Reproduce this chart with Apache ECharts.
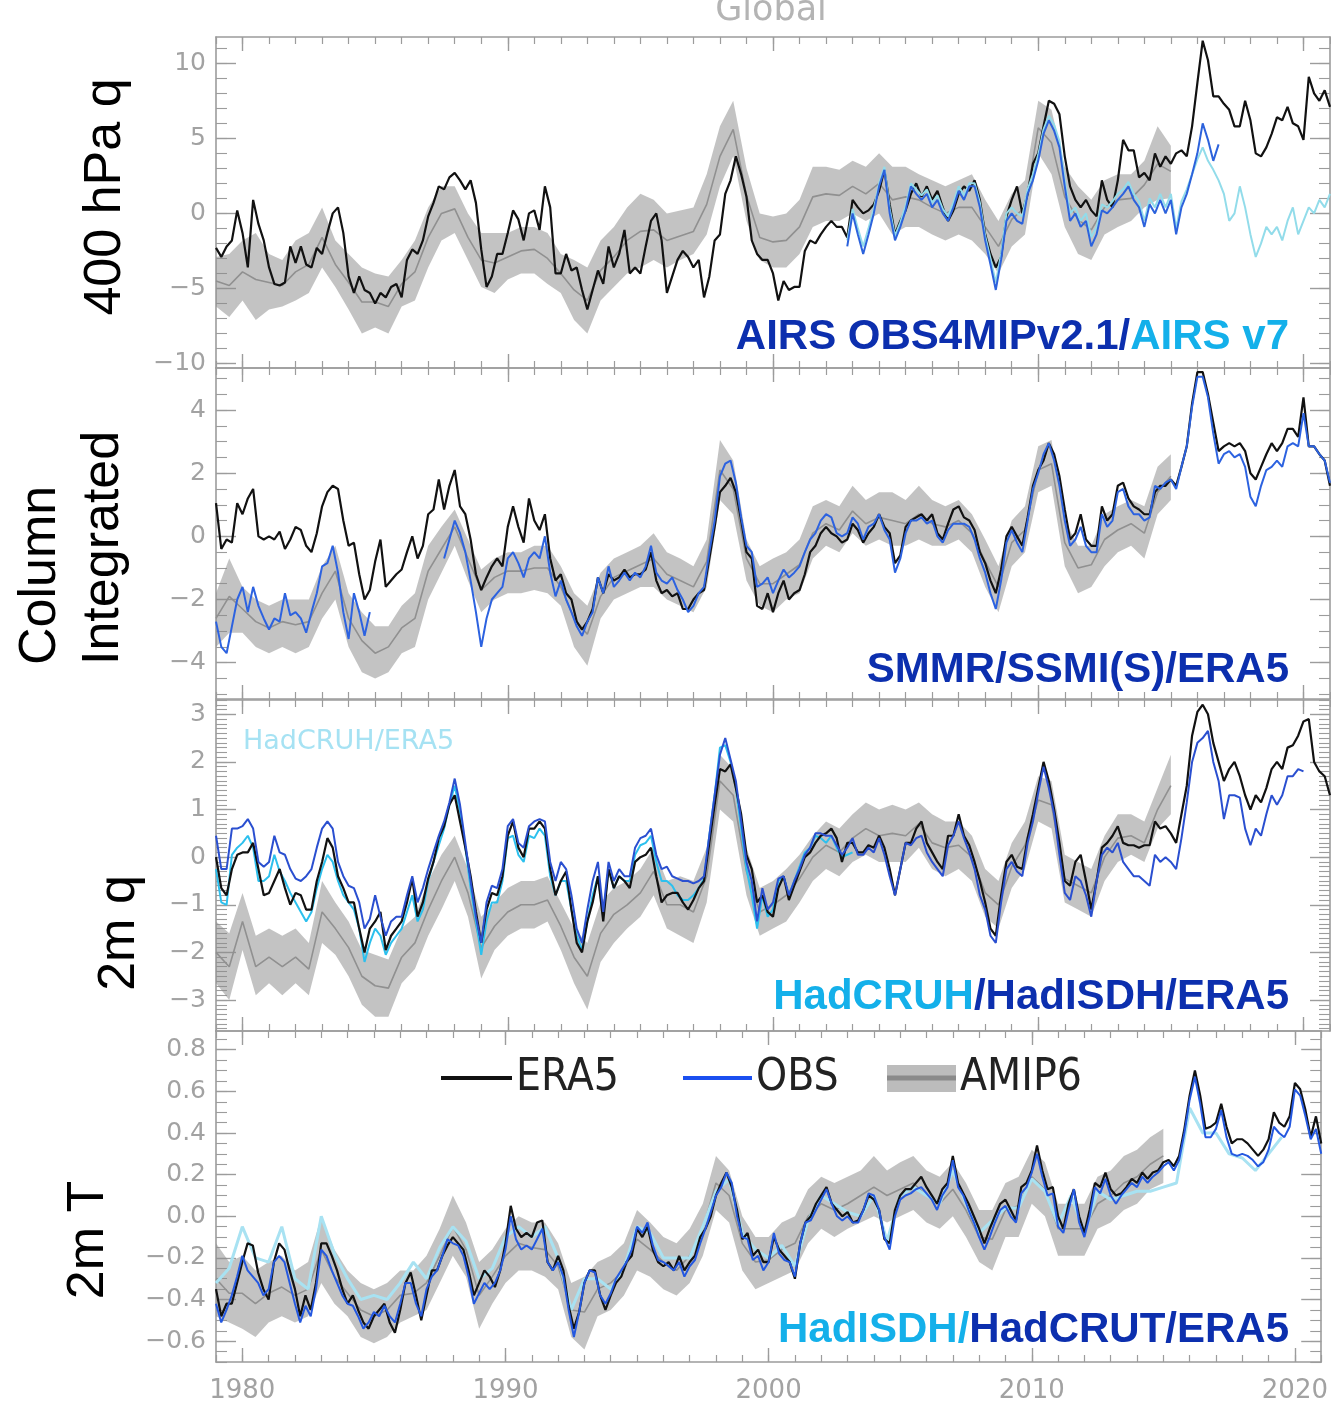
<!DOCTYPE html>
<html>
<head>
<meta charset="utf-8">
<script src="https://cdn.jsdelivr.net/npm/echarts@6/dist/echarts.min.js"></script>
<style>
  html, body { margin: 0; padding: 0; background: #fff; overflow: hidden; }
  #main { width: 1331px; height: 1408px; }
</style>
</head>
<body>
<div id="main"></div>
<script>
// ---- axis tick labels ----
const decadeTicks = [1980, 1990, 2000, 2010, 2020]
const q400Ticks = [-10, -5, 0, 5, 10]
const tcwvTicks = [-4, -2, 0, 2, 4]
const q2mTicks = [-3, -2, -1, 0, 1, 2, 3]
const t2mTicks = [-0.6, -0.4, -0.2, 0.0, 0.2, 0.4, 0.6, 0.8]

// ---- 400 hPa q (lines every 0.2 yr, AMIP every 0.5 yr from 1979.0) ----
const q400Era5 = [
  -2.3, -2.9, -2.2, -1.8, 0.2,  -1.3, -3.6, 0.9, -0.7, -1.8,  -3.6, -4.7, -4.8, -4.6, -2.2,
  -3.3, -2.2, -3.4, -3.6, -2.3,  -2.7, -1.3, 0, 0.4, -1.3,  -4.2, -5.3, -4.2, -5.1, -5.3,
  -6.0, -5.3, -5.6, -4.9, -4.7,  -5.6, -3.1, -2.4, -2.7, -1.8,  -0.2, 0.7, 1.8, 1.6, 2.4,
  2.7, 2.2, 1.6, 2.2, 0.7,  -2.4, -4.9, -4.2, -2.7, -2.7,  -1.3, 0.2, -0.4, -1.8, 0,
  0.2, -1.1, 1.8, 0.4, -4.0,  -4.0, -2.7, -3.8, -3.6, -5.1,  -6.4, -5.1, -3.8, -4.7, -2.2,
  -3.6, -2.7, -1.1, -4.0, -3.6,  -4.0, -2.2, -0.5, 0, -1.8,  -5.3, -4.2, -3.1, -2.5, -2.9,
  -3.6, -3.1, -5.6, -4.2, -1.8,  -1.4, 1.3, 2.2, 3.8, 2.6,  1.1, -1.8, -2.7, -3.1, -3.1,
  -4.0, -5.8, -4.5, -5.1, -4.9,  -4.9, -2.5, -1.8, -2.0, -1.4,  -0.9, -0.5, -0.9, -0.9, -1.6,
  0.9, 0.4, 0, 0.2, 0.6,  1.5, 2.9, 0.6, -1.4, -0.5,  0.2, 1.3, 2.0, 1.1, 1.8,
  0.9, 1.5, 0.4, -0.5, 0.2,  1.3, 1.8, 1.5, 2.2, 0.9,  -1.4, -2.7, -3.6, -2.9, -0.2,
  0.9, 1.8, 0, 1.3, 3.3,  4.0, 5.8, 7.5, 7.3, 6.6,  3.8, 1.8, 0.9, 0.4, 0.9,
  0.2, -0.2, 2.2, 0.9, 0.4,  2.2, 4.9, 4.2, 4.2, 2.4,  2.7, 2.2, 4.0, 3.1, 3.8,
  3.3, 4.0, 4.2, 3.8, 5.8,  8.7, 11.5, 10.2, 7.8, 7.8,  7.3, 6.9, 5.8, 5.8, 7.5,
  6.2, 4.0, 3.8, 4.4, 5.3,  6.4, 6.2, 7.1, 6.0, 5.8,  4.9, 9.1, 8.0, 7.5, 8.2,
  7.1
]
const q400Obs4mip = [ // from 2002.8
  -2.2,
  0, -1.4, -2.7, -1.4, 0,  1.8, 2.9, 0, -1.8, -0.9,  0.2, 1.8, 1.3, 0.9, 1.3,
  0.4, 0.9, 0, -0.5, 0.4,  1.5, 0.9, 1.8, 1.8, 0.4,  -1.8, -3.4, -5.1, -3.1, -0.5,
  0, -0.5, -0.7, 1.3, 2.2,  3.5, 5.3, 6.2, 5.5, 4.4,  1.8, -0.5, 0, -0.9, -0.5,
  -2.2, -1.4, 0.2, 0, 0.4,  0.9, 1.3, 1.8, 0.9, 0.4,  -0.9, 0.6, 0, 0.9, 0,
  0.9, -1.4, 0.4, 1.3, 2.6,  4.0, 6.0, 4.9, 3.5, 4.6
]
const q400AirsV7 = [ // from 2002.8
  -1.8,
  0.3, -1.0, -2.2, -1.0, 0.3,  2.0, 3.1, 0.3, -1.5, -0.6,  0.5, 2.0, 1.6, 1.2, 1.6,
  0.7, 1.2, 0.3, -0.2, 0.7,  1.8, 1.2, 2.0, 2.0, 0.7,  -1.5, -3.0, -4.6, -2.7, 0,
  0.4, 0, -0.2, 1.6, 2.6,  3.9, 5.6, 6.5, 5.9, 4.8,  2.2, 0, 0.4, -0.5, 0,
  -1.6, -0.9, 0.6, 0.4, 0.8,  1.3, 1.6, 2.1, 1.3, 0.8,  -0.5, 1.0, 0.4, 1.3, 0.4,
  1.3, -1.0, 0.8, 1.6, 2.6,  3.6, 4.4, 3.5, 2.9, 2.2,  1.3, -0.5, 0, 1.8, 0.4,
  -1.4, -2.9, -2.0, -0.9, -1.4,  -0.9, -1.8, -0.5, 0.4, -1.4,  -0.5, 0.4, 0, 0.9, 0.4,
  1.3
]
const q400AmipHi = [
  -2.9, -2.7, -1.8, -1.3, -2.7, -3.1, -1.8, -1.3, 0.4, -1.8,
  -2.7, -3.6, -4.0, -4.2, -3.1, -1.8, 0.4, 1.8, 1.8, 0,
  -1.3, -1.3, -1.3, -0.9, -0.9, -1.3, -2.7, -3.1, -3.6, -1.8,
  -0.9, 0.4, 1.3, 0.9, 0, 0.2, 0.4, 2.6, 5.8, 7.5,
  3.0, 0, -0.2, 0, 0.9, 3.1, 3.1, 2.9, 3.5, 3.1,
  4.0, 3.1, 3.1, 2.6, 2.2, 1.8, 2.2, 2.6, 0.9, -0.5,
  1.3, 2.2, 7.5, 6.9, 3.1, 1.8, 0.9, 2.2, 2.6, 2.6,
  3.5, 5.8, 4.5
]
const q400AmipLo = [
  -6.2, -6.9, -5.8, -7.1, -6.4, -6.2, -5.8, -5.3, -3.6, -4.9,
  -6.4, -8.0, -7.6, -8.0, -6.2, -5.8, -3.6, -1.8, -1.3, -3.1,
  -4.9, -5.3, -4.4, -4.0, -4.0, -4.7, -5.3, -7.1, -8.0, -5.8,
  -4.9, -4.0, -3.6, -3.1, -3.6, -3.1, -2.7, -1.4, 1.8, 3.8,
  -0.5, -3.1, -3.6, -3.6, -2.7, -0.9, -0.5, -0.5, 0, -0.5,
  0, -1.4, -0.9, -0.9, -1.4, -1.8, -1.4, -1.8, -2.7, -4.0,
  -2.2, -1.4, 4.0, 2.6, -0.9, -2.7, -3.1, -1.4, -0.9, -0.5,
  0.4, 0.9, 1.0
]
const q400AmipMean = [
  -4.5, -4.8, -3.9, -4.4, -4.6, -4.8, -3.9, -3.4, -1.6, -3.4,
  -4.6, -5.9, -5.9, -6.2, -4.7, -3.9, -1.6, 0, 0.3, -1.6,
  -3.1, -3.3, -2.9, -2.5, -2.4, -3.0, -4.0, -5.1, -5.8, -3.8,
  -2.9, -1.8, -1.2, -1.1, -1.8, -1.5, -1.2, 0.6, 3.8, 5.6,
  1.2, -1.6, -1.9, -1.8, -0.9, 1.1, 1.3, 1.2, 1.8, 1.3,
  2.0, 0.9, 1.1, 0.9, 0.4, 0, 0.4, 0.4, -0.9, -2.2,
  -0.4, 0.4, 5.7, 4.7, 1.1, -0.4, -1.1, 0.4, 0.9, 1.0,
  1.9, 3.3, 2.8
]

// ---- column integrated water vapour ----
const tcwvEra5 = [
  1.05, -0.4, -0.1, -0.2, 1.05,  0.7, 1.2, 1.5, 0, -0.1,  0, -0.1, 0.15, -0.4, -0.1,
  0.3, 0.2, -0.3, -0.5, 0.1,  0.95, 1.4, 1.6, 1.5, 0.5,  -0.3, -0.2, -1.2, -2.0, -1.7,
  -0.8, -0.1, -1.6, -1.4, -1.2,  -1.05, -0.5, 0, -0.7, -0.3,  0.7, 0.85, 1.8, 0.85, 1.6,
  2.1, 0.95, 0.7, -0.1, -1.2,  -1.7, -1.3, -0.95, -0.7, -0.95,  0.3, 0.95, 0.3, -0.2, 1.2,
  0.5, 0.2, 0.7, -0.7, -1.4,  -1.2, -1.8, -2.0, -2.7, -2.95,  -2.7, -2.3, -1.3, -1.8, -1.2,
  -1.4, -1.3, -1.05, -1.3, -1.2,  -1.2, -1.05, -0.5, -1.4, -1.8,  -1.7, -1.9, -1.8, -2.3, -2.3,
  -2.0, -1.8, -1.7, -0.7, 0.3,  1.4, 1.6, 1.85, 1.4, 0.5,  -0.5, -0.7, -2.2, -2.3, -1.8,
  -2.4, -1.8, -1.4, -2.0, -1.8,  -1.7, -1.2, -0.5, -0.3, 0.1,  0.3, 0.1, 0, -0.2, -0.1,
  0.4, 0.2, -0.2, 0.1, 0.3,  0.7, 0.3, 0.1, -0.85, -0.6,  0.3, 0.5, 0.6, 0.7, 0.5,
  0.7, 0.1, -0.1, 0.4, 0.85,  0.95, 0.6, 0.5, 0.2, -0.5,  -0.85, -1.4, -1.8, -1.05, 0,
  0.3, 0, -0.3, 0.6, 1.6,  2.1, 2.4, 2.95, 2.6, 1.9,  0.85, -0.1, 0.1, 0.7, -0.1,
  -0.3, -0.3, 0.95, 0.5, 0.7,  1.6, 1.7, 1.2, 0.95, 0.85,  0.7, 0.7, 1.4, 1.6, 1.6,
  1.8, 1.6, 2.2, 2.85, 4.2,  5.2, 5.2, 4.5, 3.6, 2.7,  2.85, 2.95, 2.85, 2.95, 2.7,
  2.0, 1.8, 2.2, 2.6, 2.95,  2.7, 2.95, 3.4, 3.4, 3.15,  4.4, 2.85, 2.85, 2.6, 2.4,
  1.6
]
const tcwvSmmr = [ // 1979.0 - 1984.8
  -2.7, -3.5, -3.7, -2.85, -2.0,  -1.6, -2.4, -1.6, -2.2, -2.6,  -2.95, -2.6, -2.7, -1.8, -2.5,
  -2.4, -2.6, -3.05, -2.4, -1.8,  -0.95, -0.85, -0.3, -1.15, -2.4,  -3.25, -1.8, -2.4, -3.15, -2.4
]
const tcwvSsmi = [ // from 1987.6
  -0.7, -0.1,
  0.5, 0.1, -0.5, -1.4, -2.4,  -3.5, -2.6, -2.0, -1.8, -1.6,  -0.7, -0.5, -0.85, -1.3, -0.7,
  -0.5, -0.7, 0, -1.15, -1.9,  -1.4, -2.0, -2.4, -2.85, -3.15,  -2.7, -2.4, -1.3, -1.8, -0.95,
  -1.6, -1.4, -1.15, -1.4, -1.15,  -1.3, -0.95, -0.3, -1.15, -1.4,  -1.5, -1.3, -1.7, -2.0, -2.4,
  -2.2, -1.8, -1.6, -0.5, 0.5,  1.9, 2.3, 2.4, 1.7, 0.6,  -0.3, -0.5, -1.6, -1.5, -1.3,
  -1.8, -1.4, -1.05, -1.3, -1.15,  -0.95, -0.5, -0.1, 0.1, 0.5,  0.7, 0.6, 0.1, 0, 0.1,
  0.6, 0.4, -0.1, 0.3, 0.4,  0.7, 0.2, -0.1, -1.15, -0.7,  0.1, 0.5, 0.5, 0.6, 0.4,
  0.5, 0, -0.2, 0.2, 0.4,  0.4, 0.4, 0.3, -0.1, -0.7,  -1.15, -1.8, -2.3, -1.4, -0.2,
  0.2, -0.2, -0.5, 0.5, 1.5,  2.0, 2.6, 2.95, 2.4, 1.6,  0.5, -0.3, -0.1, 0.3, -0.3,
  -0.5, -0.5, 0.7, 0.3, 0.5,  1.4, 1.5, 0.95, 0.7, 0.7,  0.5, 0.6, 1.6, 1.5, 1.7,
  1.8, 1.5, 2.2, 2.85, 4.1,  5.05, 5.05, 4.4, 3.25, 2.3,  2.6, 2.7, 2.5, 2.6, 2.2,
  1.25, 0.95, 1.6, 2.1, 2.2,  2.4, 2.2, 2.85, 2.95, 2.85,  3.9, 2.85, 2.85, 2.6, 2.4,
  1.7
]
const tcwvAmipHi = [
  -1.8, -0.7, -1.6, -2.0, -2.2, -2.0, -2.0, -2.0, -0.95, -0.3,
  -1.8, -2.4, -2.85, -2.85, -2.2, -1.8, -0.3, 0.3, 0.85, -0.1,
  -1.05, -0.7, -0.5, -0.5, -0.3, -0.3, -0.95, -1.8, -2.2, -1.15,
  -0.7, -0.5, -0.3, 0.1, -0.5, -0.7, -0.95, -0.1, 3.05, 2.4,
  -0.1, -0.95, -0.7, -0.5, -0.1, 0.95, 1.15, 0.95, 1.6, 1.15,
  1.4, 1.4, 1.15, 1.6, 1.15, 0.95, 1.15, 0.7, -0.1, -0.95,
  0.5, 0.95, 2.85, 3.05, 0.5, -0.3, -0.3, 0.7, 0.95, 1.15,
  0.95, 2.2, 2.6
]
const tcwvAmipLo = [
  -3.5, -3.05, -3.05, -3.5, -3.7, -3.5, -3.7, -3.5, -2.6, -2.0,
  -3.5, -4.3, -4.5, -4.3, -3.7, -3.5, -2.0, -1.15, -0.3, -1.4,
  -2.4, -2.0, -1.8, -1.8, -1.7, -1.8, -2.2, -3.5, -4.1, -2.6,
  -2.0, -1.8, -1.6, -1.6, -2.0, -2.2, -2.4, -1.6, 1.15, 0.7,
  -1.4, -2.2, -2.4, -2.0, -1.8, -0.7, -0.3, -0.5, 0.1, -0.3,
  -0.1, -0.3, -0.3, -0.1, -0.3, -0.3, -0.1, -0.5, -1.6, -2.4,
  -0.95, -0.5, 1.4, 1.6, -0.95, -1.8, -1.6, -0.95, -0.5, -0.3,
  -0.7, 0.7, 1.15
]
const tcwvAmipMean = [
  -2.6, -1.9, -2.3, -2.7, -2.9, -2.7, -2.8, -2.7, -1.8, -1.1,
  -2.6, -3.3, -3.7, -3.5, -2.9, -2.6, -1.1, -0.4, 0.3, -0.7,
  -1.7, -1.3, -1.1, -1.1, -1.0, -1.0, -1.6, -2.6, -3.1, -1.9,
  -1.3, -1.1, -0.9, -0.7, -1.2, -1.4, -1.6, -0.8, 2.1, 1.5,
  -0.7, -1.5, -1.5, -1.2, -0.9, 0.1, 0.4, 0.2, 0.8, 0.4,
  0.6, 0.5, 0.4, 0.7, 0.4, 0.3, 0.5, 0.1, -0.8, -1.6,
  -0.2, 0.2, 2.1, 2.3, -0.2, -1.0, -0.9, -0.1, 0.2, 0.4,
  0.1, 1.4, 1.9
]

// ---- 2m specific humidity ----
const q2mEra5 = [
  0, -0.65, -0.8, -0.25, 0.05,  0.1, 0.1, 0.3, -0.25, -0.8,  -0.75, -0.5, -0.25, -0.65, -1.0,
  -0.75, -0.8, -1.1, -1.1, -0.5,  -0.1, 0.4, 0.2, -0.4, -0.65,  -0.95, -0.95, -1.5, -2.0, -1.5,
  -1.35, -1.15, -1.95, -1.65, -1.5,  -1.35, -0.95, -0.45, -1.25, -0.95,  -0.45, -0.1, 0.4, 0.65, 1.1,
  1.3, 0.75, 0.2, -0.4, -1.15,  -1.8, -1.1, -0.75, -0.8, -0.4,  0.45, 0.75, 0.2, 0, 0.6,
  0.6, 0.75, 0.6, -0.25, -0.8,  -0.5, -0.3, -1.1, -1.8, -2.0,  -1.35, -0.95, -0.4, -1.35, -0.25,
  -0.65, -0.4, -0.5, -0.65, -0.1,  0, 0.05, 0.2, -0.4, -0.95,  -0.8, -0.75, -0.75, -0.95, -1.1,
  -0.9, -0.65, -0.5, 0.3, 1.1,  1.85, 1.8, 1.95, 1.45, 0.9,  0.05, -0.25, -0.95, -0.8, -1.15,
  -1.25, -0.65, -0.4, -0.9, -0.6,  -0.3, 0, 0.1, 0.3, 0.45,  0.5, 0.6, 0.4, -0.1, 0.3,
  0.3, 0.1, 0.1, 0.25, 0.2,  0.45, 0.2, -0.25, -0.8, -0.25,  0.3, 0.3, 0.6, 0.75, 0.3,
  0.1, -0.1, -0.25, 0.45, 0.45,  0.9, 0.45, 0.25, -0.1, -0.5,  -0.95, -1.5, -1.65, -0.8, -0.1,
  0.05, -0.2, -0.25, 0.4, 0.9,  1.45, 2.0, 1.6, 1.0, 0.3,  -0.5, -0.6, -0.1, 0.05, -0.5,
  -1.1, -0.5, 0.2, 0.3, 0.45,  0.65, 0.3, 0.25, 0.25, 0.2,  0.25, 0.25, 0.75, 0.6, 0.65,
  0.5, 0.3, 0.9, 1.5, 2.55,  3.05, 3.2, 3.0, 2.4, 2.0,  1.6, 1.85, 2.0, 1.7, 1.3,
  1.0, 1.3, 1.15, 1.45, 1.85,  2.0, 1.85, 2.3, 2.35, 2.55,  2.85, 2.9, 2.0, 1.8, 1.7,
  1.3
]
const q2mHadisdh = [ // 1979.0 - 2020.0
  0.45, -0.25, -0.25, 0.6, 0.6,  0.65, 0.8, 0.6, -0.1, -0.2,  -0.1, 0.45, 0.1, 0.05, -0.25,
  -0.45, -0.5, -0.4, -0.25, 0.2,  0.6, 0.75, 0.6, -0.1, -0.4,  -0.6, -0.65, -0.95, -1.5, -1.3,
  -0.8, -1.25, -1.65, -1.35, -1.25,  -1.25, -0.8, -0.4, -0.95, -0.65,  -0.25, 0.1, 0.45, 0.75, 1.15,
  1.65, 1.1, 0.3, -0.5, -1.25,  -1.8, -0.95, -0.6, -0.65, -0.25,  0.65, 0.8, 0.3, 0.2, 0.65,
  0.75, 0.8, 0.75, -0.1, -0.5,  -0.1, -0.25, -0.8, -1.5, -1.8,  -1.1, -0.5, -0.1, -1.15, -0.1,
  -0.5, -0.25, -0.4, -0.4, 0.2,  0.4, 0.45, 0.6, 0.05, -0.25,  -0.2, -0.4, -0.45, -0.5, -0.5,
  -0.55, -0.5, -0.4, 0.45, 1.3,  2.15, 2.5, 2.05, 1.6, 0.75,  -0.1, -0.5, -1.35, -0.65, -1.1,
  -0.95, -0.45, -0.4, -0.8, -0.5,  -0.25, 0.05, 0.2, 0.5, 0.5,  0.45, 0.45, 0.25, 0.05, 0.2,
  0.4, 0.05, 0.05, 0.2, 0.1,  0.4, 0.05, -0.4, -0.8, -0.25,  0.3, 0.25, 0.4, 0.45, 0.1,
  -0.1, -0.25, -0.4, 0.25, 0.45,  0.75, 0.4, 0.1, -0.25, -0.8,  -1.1, -1.65, -1.8, -0.95, -0.25,
  -0.1, -0.3, -0.4, 0.3, 0.75,  1.35, 1.9, 1.45, 0.9, 0.05,  -0.75, -0.9, -0.4, -0.5, -0.8,
  -1.25, -0.5, 0.05, 0.2, 0.1,  0.3, -0.1, -0.25, -0.4, -0.4,  -0.5, -0.6, 0.05, -0.1, 0,
  -0.1, -0.25, 0.4, 1.15, 2.0,  2.4, 2.5, 2.65, 2.0, 1.6,  0.8, 1.3, 1.3, 1.25, 0.6,
  0.25, 0.6, 0.45, 0.9, 1.3,  1.1, 1.3, 1.7, 1.7, 1.85,
  1.8
]
const q2mHadcruh = [ // 1979.0 - 2003.0
  -0.25, -0.95, -1.0, 0.05, 0.2,  0.3, 0.45, 0.2, -0.5, -0.5,  -0.4, 0.05, -0.3, -0.5, -0.75,
  -0.95, -1.15, -1.35, -1.15, -0.65,  -0.25, 0.05, -0.1, -0.5, -0.8,  -0.95, -1.1, -1.5, -2.2, -1.8,
  -1.5, -1.65, -2.05, -1.8, -1.65,  -1.5, -1.15, -0.8, -1.35, -1.1,  -0.5, -0.1, 0.25, 0.6, 1.1,
  1.5, 0.95, 0.2, -0.65, -1.35,  -2.05, -1.35, -0.95, -0.95, -0.5,  0.4, 0.45, 0.05, -0.1, 0.45,
  0.4, 0.6, 0.45, -0.4, -0.8,  -0.5, -0.5, -1.1, -1.65, -1.95,  -1.35, -0.8, -0.4, -1.25, -0.25,
  -0.65, -0.4, -0.5, -0.5, 0.05,  0.25, 0.3, 0.45, -0.1, -0.5,  -0.5, -0.6, -0.8, -0.9, -0.9,
  -0.8, -0.65, -0.45, 0.45, 1.3,  2.3, 2.35, 2.0, 1.45, 0.6,  -0.25, -0.8, -1.5, -0.8, -1.25,
  -1.1, -0.5, -0.4, -0.8, -0.5,  -0.2, 0.1, 0.2, 0.45, 0.4,  0.3, 0.45, 0.2, 0, 0.05,
  0.1
]
const q2mAmipHi = [
  -1.35, -1.6, -0.75, -1.65, -1.5, -1.65, -1.5, -1.8, -0.5, -0.95,
  -1.35, -1.95, -2.05, -2.15, -1.5, -1.25, -0.5, 0.05, 0.45, -0.25,
  -1.25, -0.95, -0.65, -0.5, -0.5, -0.4, -0.95, -1.5, -1.8, -0.95,
  -0.65, -0.5, -0.25, 0.2, -0.5, -0.4, -0.5, 0.2, 2.15, 1.85,
  0.2, -0.65, -0.5, -0.25, 0.05, 0.45, 0.75, 0.6, 0.9, 1.15,
  1.0, 1.1, 1.0, 1.15, 0.9, 0.75, 0.75, 0.45, -0.25, -0.5,
  0.3, 0.75, 1.7, 1.6, 0.05, -0.1, -0.25, 0.45, 0.9, 0.9,
  0.75, 1.45, 2.15
]
const q2mAmipLo = [
  -2.65, -3.0, -1.95, -2.9, -2.65, -2.9, -2.65, -2.9, -1.8, -2.05,
  -2.5, -3.1, -3.35, -3.35, -2.65, -2.35, -1.65, -1.1, -0.5, -1.25,
  -2.55, -1.95, -1.65, -1.5, -1.5, -1.35, -1.95, -2.65, -3.2, -2.2,
  -1.8, -1.5, -1.25, -0.8, -1.5, -1.65, -1.8, -0.95, 1.0, 0.75,
  -0.8, -1.65, -1.5, -1.35, -0.95, -0.5, -0.25, -0.4, -0.1, 0.05,
  -0.1, -0.1, -0.1, 0.2, -0.25, -0.4, -0.25, -0.5, -1.25, -1.5,
  -0.65, -0.25, 0.75, 0.6, -0.95, -1.1, -1.25, -0.5, -0.1, 0.05,
  -0.1, 0.6, 0.9
]
const q2mAmipMean = [
  -2.0, -2.3, -1.35, -2.3, -2.1, -2.3, -2.1, -2.35, -1.15, -1.5,
  -1.9, -2.5, -2.7, -2.75, -2.1, -1.8, -1.1, -0.5, 0, -0.75,
  -1.9, -1.45, -1.15, -1.0, -1.0, -0.9, -1.45, -2.1, -2.5, -1.6,
  -1.2, -1.0, -0.75, -0.3, -1.0, -1.0, -1.15, -0.4, 1.6, 1.3,
  -0.3, -1.15, -1.0, -0.8, -0.45, 0, 0.25, 0.1, 0.4, 0.6,
  0.45, 0.5, 0.45, 0.7, 0.3, 0.2, 0.25, 0, -0.75, -1.0,
  -0.2, 0.25, 1.2, 1.1, -0.45, -0.6, -0.75, 0, 0.4, 0.45,
  0.3, 1.0, 1.5
]

// ---- 2m temperature ----
const t2mEra5 = [
  -0.35, -0.48, -0.42, -0.42, -0.32,  -0.22, -0.13, -0.14, -0.27, -0.35,  -0.40, -0.22, -0.13, -0.16, -0.26,
  -0.35, -0.48, -0.38, -0.45, -0.32,  -0.13, -0.13, -0.19, -0.26, -0.35,  -0.42, -0.38, -0.45, -0.51, -0.54,
  -0.48, -0.45, -0.42, -0.51, -0.56,  -0.45, -0.32, -0.27, -0.38, -0.50,  -0.38, -0.26, -0.26, -0.19, -0.14,
  -0.10, -0.13, -0.16, -0.26, -0.38,  -0.32, -0.26, -0.29, -0.34, -0.26,  -0.13, 0.05, -0.06, -0.10, -0.08,
  -0.10, -0.03, -0.02, -0.22, -0.26,  -0.19, -0.26, -0.43, -0.54, -0.46,  -0.32, -0.26, -0.26, -0.38, -0.45,
  -0.38, -0.32, -0.29, -0.22, -0.19,  -0.06, -0.10, -0.05, -0.16, -0.22,  -0.24, -0.22, -0.26, -0.19, -0.26,
  -0.22, -0.19, -0.10, -0.06, 0,  0.10, 0.16, 0.21, 0.14, 0.03,  -0.11, -0.08, -0.19, -0.16, -0.22,
  -0.22, -0.10, -0.16, -0.19, -0.22,  -0.30, -0.13, -0.03, 0, 0.06,  0.10, 0.14, 0.06, 0.03, 0,
  0.02, -0.03, -0.02, 0.03, 0.10,  0.08, 0.03, -0.11, -0.13, 0.03,  0.10, 0.13, 0.13, 0.16, 0.19,
  0.14, 0.10, 0.06, 0.13, 0.16,  0.29, 0.16, 0.11, 0.06, 0,  -0.06, -0.13, -0.06, 0, 0.06,
  0.08, 0.03, -0.02, 0.14, 0.16,  0.22, 0.34, 0.22, 0.13, 0.14,  0, -0.06, 0.06, 0.13, 0,
  -0.08, 0.03, 0.16, 0.14, 0.21,  0.13, 0.10, 0.11, 0.14, 0.18,  0.16, 0.21, 0.18, 0.21, 0.22,
  0.26, 0.27, 0.24, 0.29, 0.42,  0.58, 0.70, 0.58, 0.42, 0.43,  0.45, 0.54, 0.43, 0.35, 0.37,
  0.37, 0.35, 0.32, 0.29, 0.32,  0.37, 0.50, 0.45, 0.43, 0.48,  0.64, 0.61, 0.51, 0.38, 0.48,
  0.35
]
const t2mHadcrut = [
  -0.42, -0.51, -0.45, -0.38, -0.29,  -0.19, -0.26, -0.29, -0.32, -0.38,  -0.35, -0.22, -0.19, -0.22, -0.32,
  -0.42, -0.51, -0.43, -0.48, -0.35,  -0.16, -0.19, -0.26, -0.32, -0.38,  -0.42, -0.43, -0.48, -0.54, -0.51,
  -0.46, -0.48, -0.43, -0.48, -0.51,  -0.42, -0.32, -0.32, -0.42, -0.48,  -0.35, -0.29, -0.26, -0.19, -0.11,
  -0.13, -0.14, -0.19, -0.29, -0.42,  -0.37, -0.32, -0.35, -0.32, -0.26,  -0.16, 0, -0.11, -0.16, -0.14,
  -0.16, -0.11, -0.06, -0.22, -0.26,  -0.22, -0.29, -0.45, -0.58, -0.46,  -0.32, -0.26, -0.27, -0.38, -0.42,
  -0.37, -0.30, -0.26, -0.22, -0.16,  -0.05, -0.08, -0.03, -0.14, -0.21,  -0.22, -0.24, -0.26, -0.22, -0.29,
  -0.24, -0.21, -0.13, -0.06, 0.02,  0.10, 0.14, 0.21, 0.16, 0,  -0.10, -0.11, -0.21, -0.19, -0.26,
  -0.22, -0.08, -0.18, -0.21, -0.22,  -0.29, -0.13, -0.03, -0.02, 0.03,  0.08, 0.13, 0.06, 0, -0.02,
  0, -0.03, -0.03, 0.03, 0.11,  0.10, 0.03, -0.10, -0.16, 0,  0.08, 0.10, 0.11, 0.13, 0.14,
  0.11, 0.08, 0.03, 0.10, 0.14,  0.27, 0.14, 0.10, 0.03, -0.03,  -0.10, -0.16, -0.10, -0.03, 0.03,
  0.05, 0, -0.03, 0.11, 0.14,  0.21, 0.30, 0.19, 0.10, 0.11,  -0.05, -0.08, 0.03, 0.13, -0.03,
  -0.10, 0, 0.14, 0.11, 0.18,  0.10, 0.06, 0.10, 0.13, 0.16,  0.14, 0.19, 0.16, 0.19, 0.21,
  0.24, 0.26, 0.22, 0.27, 0.40,  0.56, 0.67, 0.54, 0.38, 0.38,  0.42, 0.51, 0.38, 0.30, 0.29,
  0.30, 0.29, 0.27, 0.24, 0.26,  0.32, 0.43, 0.40, 0.38, 0.43,  0.61, 0.58, 0.48, 0.37, 0.42,
  0.30
]
const t2mHadisdh = [ // every 0.5 yr, 1979.0 - 2019.5
  -0.32, -0.25, -0.05, -0.2, -0.22, -0.05, -0.3, -0.35, 0.0, -0.18,
  -0.3, -0.4, -0.38, -0.4, -0.32, -0.22, -0.3, -0.15, -0.05, -0.12,
  -0.3, -0.25, -0.1, -0.05, -0.1, -0.05, -0.2, -0.45, -0.3, -0.3,
  -0.35, -0.25, -0.05, -0.08, -0.2, -0.2, -0.2, -0.05, 0.12, 0.18,
  -0.08, -0.16, -0.2, -0.14, -0.24, -0.02, 0.1, 0.06, 0.02, 0.0,
  0.1, -0.12, 0.1, 0.14, 0.1, 0.06, 0.22, 0.06, -0.08, -0.02,
  0.04, 0.04, 0.18, 0.12, -0.04, 0.1, -0.08, 0.12, 0.08, 0.1,
  0.12, 0.12, 0.14, 0.16, 0.52, 0.4, 0.4, 0.3, 0.28, 0.22,
  0.3, 0.38
]
const t2mAmipHi = [
  -0.13, -0.22, -0.19, -0.26, -0.22, -0.19, -0.26, -0.22, 0, -0.16,
  -0.26, -0.32, -0.35, -0.32, -0.26, -0.26, -0.19, -0.06, 0.10, -0.03,
  -0.22, -0.16, -0.06, 0, -0.03, -0.03, -0.13, -0.32, -0.29, -0.22,
  -0.19, -0.13, 0.03, -0.03, -0.10, -0.13, -0.06, 0.06, 0.29, 0.22,
  0, -0.10, -0.10, -0.03, 0, 0.13, 0.19, 0.16, 0.19, 0.22,
  0.29, 0.22, 0.26, 0.29, 0.22, 0.19, 0.26, 0.16, 0.03, 0.03,
  0.16, 0.19, 0.32, 0.26, 0.06, 0.06, 0.06, 0.19, 0.22, 0.29,
  0.32, 0.38, 0.42
]
const t2mAmipLo = [
  -0.48, -0.51, -0.54, -0.58, -0.51, -0.48, -0.51, -0.48, -0.32, -0.42,
  -0.48, -0.58, -0.61, -0.58, -0.51, -0.48, -0.45, -0.32, -0.19, -0.29,
  -0.54, -0.42, -0.32, -0.26, -0.26, -0.29, -0.35, -0.58, -0.64, -0.48,
  -0.45, -0.38, -0.26, -0.29, -0.35, -0.38, -0.32, -0.19, 0.03, -0.03,
  -0.26, -0.35, -0.32, -0.29, -0.26, -0.13, -0.06, -0.10, -0.06, -0.03,
  0, -0.03, 0, 0.03, -0.03, -0.06, 0, -0.10, -0.22, -0.26,
  -0.10, -0.10, 0.06, 0, -0.19, -0.19, -0.19, -0.06, -0.03, 0.03,
  0.06, 0.13, 0.16
]
const t2mAmipMean = [
  -0.3, -0.37, -0.37, -0.42, -0.37, -0.34, -0.38, -0.35, -0.16, -0.29,
  -0.37, -0.45, -0.48, -0.45, -0.38, -0.37, -0.32, -0.19, -0.05, -0.16,
  -0.38, -0.29, -0.19, -0.13, -0.15, -0.16, -0.24, -0.45, -0.46, -0.35,
  -0.32, -0.26, -0.11, -0.16, -0.22, -0.26, -0.19, -0.06, 0.16, 0.1,
  -0.13, -0.22, -0.21, -0.16, -0.13, 0, 0.06, 0.03, 0.06, 0.1,
  0.14, 0.1, 0.13, 0.16, 0.1, 0.06, 0.13, 0.03, -0.1, -0.11,
  0.03, 0.05, 0.19, 0.13, -0.06, -0.06, -0.06, 0.06, 0.1, 0.16,
  0.19, 0.25, 0.29
]

// ---- styling ----
const AXIS_GREY = '#9c9c9c'
const TEXT_DARK = '#0c2fae'
const TEXT_CYAN = '#14b0ea'
const ERA5_COLOR = '#111111'
const BAND_COLOR = 'rgba(140,140,140,0.52)'
const MEAN_COLOR = '#909090'
const TICK_FONT = 'DejaVu Sans'

const panels = [
  { top: 37, min: -10.3, max: 11.75, ticks: q400Ticks, minorStep: 1, digits: 0 },
  { top: 368, min: -5.15, max: 5.33, ticks: tcwvTicks, minorStep: 0.5, digits: 0 },
  { top: 700, min: -3.65, max: 3.3, ticks: q2mTicks, minorStep: 0.1, digits: 0 },
  { top: 1031, min: -0.70, max: 0.89, ticks: t2mTicks, minorStep: 0.05, digits: 1 }
]
const PANEL_H = 331
const GRID_LEFT = 216
const GRID_W = 1114

const yearTicks = []
for (let y = 1979; y <= 2021; y++) yearTicks.push(y)

const minorValues = (p) => {
  const out = []
  const k0 = Math.ceil(p.min / p.minorStep - 1e-9)
  const k1 = Math.floor(p.max / p.minorStep + 1e-9)
  for (let k = k0; k <= k1; k++) out.push(Math.round(k * p.minorStep * 1000) / 1000)
  return out
}

const fmt = (digits) => (v) => Number(v).toFixed(digits).replace('-', '\u2212')

const grids = []
const xAxes = []
const yAxes = []

panels.forEach((p, i) => {
  grids.push({ left: GRID_LEFT, top: p.top, width: GRID_W, height: PANEL_H })
  const last = i === panels.length - 1
  const xCommon = {
    type: 'value', gridIndex: i, min: 1979, max: 2021,
    splitLine: { show: false }, axisLabel: { show: false }
  }
  const lineOn = { show: true, onZero: false, lineStyle: { color: AXIS_GREY, width: 1.6 } }
  const lineOff = { show: false, onZero: false }
  ;['bottom', 'top'].forEach((pos) => {
    xAxes.push(Object.assign({}, xCommon, {
      position: pos,
      axisLine: lineOn,
      axisTick: { show: true, inside: true, length: 14, customValues: decadeTicks, lineStyle: { color: AXIS_GREY, width: 1.4 } },
      axisLabel: (pos === 'bottom' && last) ? {
        show: true, customValues: decadeTicks, formatter: (v) => String(v), color: '#a2a2a2', fontSize: 26,
        fontFamily: TICK_FONT, margin: 16
      } : { show: false }
    }))
    xAxes.push(Object.assign({}, xCommon, {
      position: pos,
      axisLine: lineOff,
      axisTick: { show: true, inside: true, length: 7, customValues: yearTicks, lineStyle: { color: AXIS_GREY, width: 1.2 } }
    }))
  })
  const yCommon = { type: 'value', gridIndex: i, min: p.min, max: p.max, splitLine: { show: false } }
  ;['left', 'right'].forEach((pos) => {
    yAxes.push(Object.assign({}, yCommon, {
      position: pos,
      axisLine: lineOn,
      axisTick: { show: true, inside: true, length: 20, customValues: p.ticks, lineStyle: { color: AXIS_GREY, width: 1.4 } },
      axisLabel: pos === 'left' ? {
        show: true, customValues: p.ticks, formatter: fmt(p.digits), color: '#a2a2a2',
        fontSize: 25, fontFamily: TICK_FONT, margin: 10
      } : { show: false }
    }))
    yAxes.push(Object.assign({}, yCommon, {
      position: pos,
      axisLine: lineOff,
      axisLabel: { show: false },
      axisTick: { show: true, inside: true, length: 11, customValues: minorValues(p), lineStyle: { color: AXIS_GREY, width: 1.1 } }
    }))
  })
})

const pts = (start, step, vals) => vals.map((v, i) => [Math.round((start + i * step) * 100) / 100, v])

const line = (panel, name, start, step, vals, color, width, z) => ({
  type: 'line', name, xAxisIndex: 4 * panel, yAxisIndex: 4 * panel,
  data: pts(start, step, vals), symbol: 'none', showSymbol: false,
  lineStyle: { color, width }, z, silent: true
})

// AMIP6 spread: one polygon, upper edge forward then lower edge back, placed through the axes
const band = (panel, lo, hi) => {
  const upper = pts(1979, 0.5, hi)
  const lower = pts(1979, 0.5, lo).reverse()
  return {
    type: 'custom', xAxisIndex: 4 * panel, yAxisIndex: 4 * panel, z: 1, silent: true,
    data: [upper[0]],
    renderItem: (params, api) => ({
      type: 'polygon',
      shape: { points: upper.concat(lower).map((d) => api.coord(d)) },
      style: { fill: BAND_COLOR }
    })
  }
}

const series = [
  band(0, q400AmipLo, q400AmipHi),
  line(0, 'AMIP6', 1979, 0.5, q400AmipMean, MEAN_COLOR, 1.6, 2),
  line(0, 'ERA5', 1979, 0.2, q400Era5, ERA5_COLOR, 2.2, 3),
  line(0, 'AIRS v7', 2002.8, 0.2, q400AirsV7, '#92dcea', 2, 4),
  line(0, 'AIRS OBS4MIPv2.1', 2002.8, 0.2, q400Obs4mip, '#2c62dc', 2, 5),

  band(1, tcwvAmipLo, tcwvAmipHi),
  line(1, 'AMIP6', 1979, 0.5, tcwvAmipMean, MEAN_COLOR, 1.6, 2),
  line(1, 'ERA5', 1979, 0.2, tcwvEra5, ERA5_COLOR, 2.2, 3),
  line(1, 'SMMR', 1979, 0.2, tcwvSmmr, '#2c62e0', 2, 5),
  line(1, 'SSMI(S)', 1987.6, 0.2, tcwvSsmi, '#2c62e0', 2, 5),

  band(2, q2mAmipLo, q2mAmipHi),
  line(2, 'AMIP6', 1979, 0.5, q2mAmipMean, MEAN_COLOR, 1.6, 2),
  line(2, 'HadCRUH', 1979, 0.2, q2mHadcruh, '#2cc0ee', 2, 3),
  line(2, 'ERA5', 1979, 0.2, q2mEra5, ERA5_COLOR, 2.2, 4),
  line(2, 'HadISDH', 1979, 0.2, q2mHadisdh, '#2a4fd0', 2, 5),

  band(3, t2mAmipLo, t2mAmipHi),
  line(3, 'AMIP6', 1979, 0.5, t2mAmipMean, MEAN_COLOR, 1.6, 2),
  line(3, 'HadISDH', 1979, 0.5, t2mHadisdh, '#a8e2f2', 3, 3),
  line(3, 'ERA5', 1979, 0.2, t2mEra5, ERA5_COLOR, 2.2, 4),
  line(3, 'HadCRUT', 1979, 0.2, t2mHadcrut, '#2458e0', 2, 5)
]

// ---- text overlays ----
const measure = (str, font) => {
  const ctx = document.createElement('canvas').getContext('2d')
  ctx.font = font
  return ctx.measureText(str).width
}
const LABEL_FONT = 'bold 42px "Liberation Sans", Arial, sans-serif'
const labelText = (parts, baseline) => {
  const out = []
  let x = 1289
  for (let k = parts.length - 1; k >= 0; k--) {
    const [str, color] = parts[k]
    out.push({
      type: 'text', x, y: baseline - 15, silent: true, z: 100,
      style: { text: str, fill: color, font: LABEL_FONT, align: 'right', verticalAlign: 'middle' }
    })
    x -= measure(str, LABEL_FONT)
  }
  return out
}
const axisTitle = (str, x, y, align) => ({
  type: 'text', x, y, rotation: Math.PI / 2, silent: true, z: 100,
  style: { text: str, fill: '#000', font: '52px "Liberation Sans", Arial, sans-serif', align, verticalAlign: 'middle' }
})
const LEGEND_FONT = '44px "DejaVu Sans Condensed", "DejaVu Sans", sans-serif'

const graphics = [
  { type: 'text', x: 771, y: 11, silent: true,
    style: { text: 'Global', fill: '#b4b4b4', font: '35px "DejaVu Sans", sans-serif', align: 'center', verticalAlign: 'middle' } },
  axisTitle('400 hPa q', 106, 197, 'center'),
  axisTitle('Column', 41, 665, 'left'),
  axisTitle('Integrated', 104, 665, 'left'),
  axisTitle('2m q', 120, 933, 'center'),
  axisTitle('2m T', 89, 1240, 'center'),
  ...labelText([['AIRS OBS4MIPv2.1/', TEXT_DARK], ['AIRS v7', TEXT_CYAN]], 352),
  ...labelText([['SMMR/SSMI(S)/ERA5', TEXT_DARK]], 685),
  ...labelText([['HadCRUH', TEXT_CYAN], ['/HadISDH/ERA5', TEXT_DARK]], 1012),
  ...labelText([['HadISDH/', TEXT_CYAN], ['HadCRUT/ERA5', TEXT_DARK]], 1345),
  { type: 'text', x: 243, y: 742, silent: true,
    style: { text: 'HadCRUH/ERA5', fill: '#a6e2f3', font: '27px "DejaVu Sans", sans-serif', align: 'left', verticalAlign: 'middle' } },
  // legend
  { type: 'line', silent: true, shape: { x1: 441, y1: 1078, x2: 512, y2: 1078 }, style: { stroke: '#111', lineWidth: 4 } },
  { type: 'text', x: 516, y: 1079, silent: true, style: { text: 'ERA5', fill: '#222', font: LEGEND_FONT, verticalAlign: 'middle' } },
  { type: 'line', silent: true, shape: { x1: 683, y1: 1078, x2: 752, y2: 1078 }, style: { stroke: '#1a4ff0', lineWidth: 4 } },
  { type: 'text', x: 756, y: 1079, silent: true, style: { text: 'OBS', fill: '#222', font: LEGEND_FONT, verticalAlign: 'middle' } },
  { type: 'rect', silent: true, shape: { x: 887, y: 1065, width: 69, height: 27 }, style: { fill: '#bcbcbc' } },
  { type: 'line', silent: true, shape: { x1: 887, y1: 1078, x2: 956, y2: 1078 }, style: { stroke: '#8a8a8a', lineWidth: 5 } },
  { type: 'text', x: 960, y: 1079, silent: true, style: { text: 'AMIP6', fill: '#222', font: LEGEND_FONT, verticalAlign: 'middle' } }
]

const chart = echarts.init(document.getElementById('main'), null, { renderer: 'canvas' })
chart.setOption({
  animation: false,
  backgroundColor: '#ffffff',
  grid: grids,
  xAxis: xAxes,
  yAxis: yAxes,
  series: series,
  graphic: graphics
})
</script>
</body>
</html>
